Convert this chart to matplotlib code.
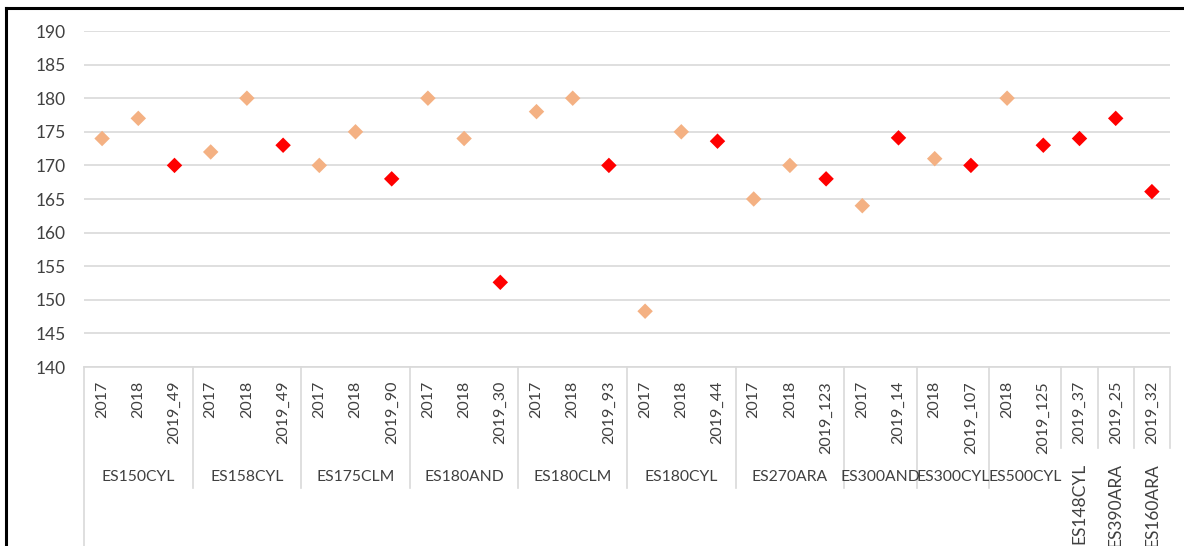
import matplotlib.pyplot as plt
import matplotlib.transforms as mtransforms
from matplotlib.lines import Line2D

# groups of the outer category level and how many inner categories each holds
groups = ["ES150CYL", "ES158CYL", "ES175CLM", "ES180AND", "ES180CLM", "ES180CYL",
          "ES270ARA", "ES300AND", "ES300CYL", "ES500CYL", "ES148CYL", "ES390ARA", "ES160ARA"]
group_sizes = [3, 3, 3, 3, 3, 3, 3, 2, 2, 2, 1, 1, 1]

labels = ["2017", "2018", "2019_49",
          "2017", "2018", "2019_49",
          "2017", "2018", "2019_90",
          "2017", "2018", "2019_30",
          "2017", "2018", "2019_93",
          "2017", "2018", "2019_44",
          "2017", "2018", "2019_123",
          "2017", "2019_14",
          "2018", "2019_107",
          "2018", "2019_125",
          "2019_37", "2019_25", "2019_32"]
values = [174, 177, 170,
          172, 180, 173,
          170, 175, 168,
          180, 174, 152.6,
          178, 180, 170,
          148.3, 175, 173.6,
          165, 170, 168,
          164, 174.1,
          171, 170,
          180, 173,
          174, 177, 166.1]

peach = "#F4B183"
red = "#FF0000"
text_col = "#404040"
grid_col = "#D9D9D9"

plt.rcParams['font.family'] = ['Lato', 'DejaVu Sans']

W, H = 1184, 546
fig = plt.figure(figsize=(W / 100, H / 100), dpi=100)
ax = fig.add_axes([84 / W, 1 - 367 / H, 1086 / W, 336 / H])

x = list(range(len(values)))
colors = [red if lab.startswith("2019") else peach for lab in labels]
ax.scatter(x, values, marker="D", s=62, c=colors, linewidths=0, zorder=3)

ax.set_xlim(-0.5, len(values) - 0.5)
ax.set_ylim(140, 190)
ax.set_yticks(range(140, 191, 5))
ax.yaxis.grid(True, color=grid_col, linewidth=1.2)
ax.set_axisbelow(True)
for s in ["top", "right", "left"]:
    ax.spines[s].set_visible(False)
ax.spines["bottom"].set_color(grid_col)
ax.spines["bottom"].set_linewidth(1.2)
ax.tick_params(axis="y", length=0, pad=13, labelsize=12.5, labelcolor=text_col)
ax.tick_params(axis="x", length=0, pad=10, labelsize=11.5, labelcolor=text_col)
ax.set_xticks(x)
ax.set_xticklabels(labels, rotation=90, va="top", ha="center")

# outer level labels and separators
trans = mtransforms.blended_transform_factory(ax.transData, ax.transAxes)
ax.plot([-0.5, -0.5], [0, -0.54], transform=trans, color=grid_col, lw=1.2, clip_on=False)
start = 0
for name, size in zip(groups, group_sizes):
    center = start + (size - 1) / 2
    end = start + size - 0.5
    if size > 1:
        ax.text(center, -0.327, name, transform=trans, ha="center", va="center",
                fontsize=11.3, color=text_col)
    else:
        ax.text(center, -0.286, name, transform=trans, ha="center", va="top",
                rotation=90, fontsize=12.5, color=text_col)
    low = -0.36 if end < 25 else -0.241
    ax.plot([end, end], [0, low], transform=trans, color=grid_col, lw=1.2, clip_on=False)
    start += size

# black frame around the chart
fig.add_artist(Line2D([6 / W, 6 / W], [0, 1 - 8 / H], color="black", lw=2.2))
fig.add_artist(Line2D([6 / W, 1], [1 - 8 / H, 1 - 8 / H], color="black", lw=2.2))

fig.savefig("out.png", dpi=100)
